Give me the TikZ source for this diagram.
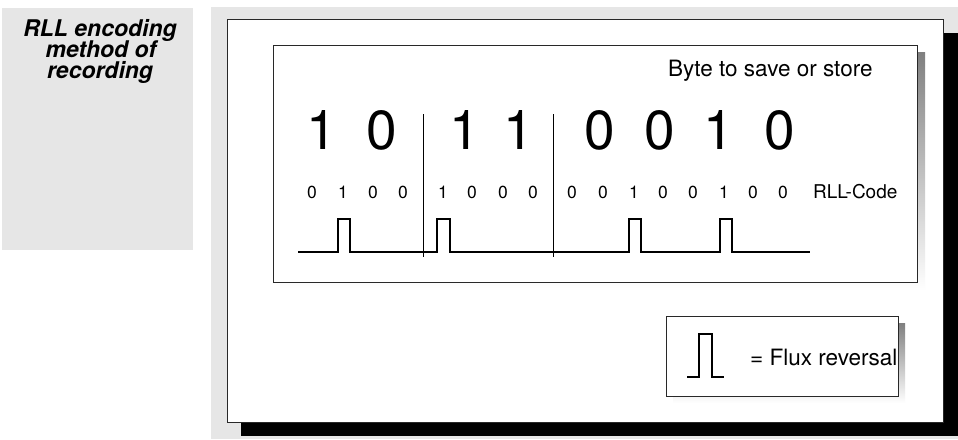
\documentclass[tikz,border=0pt]{standalone}
\usepackage{fontspec}
\setmainfont{TeX Gyre Heros}
\definecolor{panel}{RGB}{230,230,230}
\definecolor{shade}{RGB}{155,155,155}
\definecolor{edge}{RGB}{40,40,40}
\tikzset{
  bigdig/.style={anchor=base, inner sep=0pt, font=\fontsize{55}{55}\selectfont},
  smalldig/.style={anchor=base, inner sep=0pt, font=\fontsize{17.5}{17.5}\selectfont},
  titleline/.style={anchor=base, inner sep=0pt, font=\fontsize{23}{23}\selectfont\bfseries\itshape},
  wave/.style={line width=2pt, line join=miter},
  sep/.style={line width=0.8pt},
  boxline/.style={draw=edge, line width=1pt, fill=white},
}
\begin{document}
\begin{tikzpicture}[x=1pt, y=-1pt]
\useasboundingbox (0,0) rectangle (958,439);
% background panels
\fill[panel] (2,8) rectangle (193,250);
\fill[panel] (211,7) rectangle (958,439);
% title
\node[titleline] (title1) at (100,36) {RLL encoding};
\node[titleline] (title2) at (101,57) {method of};
\node[titleline] (title3) at (100,78) {recording};
% main frame with black shadow
\fill[black] (241,33) rectangle (958,436);
\draw[boxline] (227,19) rectangle (943,422);
% inner box with grey shadow
\fill[shade] (280,52) rectangle (925,290);
\draw[boxline] (273,45) rectangle (917,282);
\node[anchor=base west, inner sep=0pt, font=\fontsize{22.5}{22.5}\selectfont] (byte) at (668,76) {Byte to save or store};
% big digits
\foreach \x/\d [count=\i] in {322/1,382/0,465/1,519/1,600/0,660/0,719/1,780/0}
  \node[bigdig] (b\i) at (\x,149) {\d};
% separators
\draw[sep] (423,114) -- (423,257);
\draw[sep] (553,114) -- (553,257);
% small digits
\foreach \x/\d [count=\i] in {312/0,343/1,373/0,403/0,443/1,472/0,503/0,533/0,572/0,603/0,634/1,663/0,693/0,724/1,753/0,783/0}
  \node[smalldig] (s\i) at (\x,198) {\d};
\node[anchor=base west, inner sep=0pt, font=\fontsize{19}{19}\selectfont] (rll) at (813,198) {RLL-Code};
% waveform
\draw[wave] (298,252) -- (338,252) -- (338,219) -- (350,219) -- (350,252)
  -- (437,252) -- (437,219) -- (450,219) -- (450,252)
  -- (629,252) -- (629,219) -- (641,219) -- (641,252)
  -- (720,252) -- (720,219) -- (732,219) -- (732,252) -- (810,252);
% legend
\fill[shade] (673,323) rectangle (905,403);
\draw[boxline] (666,316) rectangle (898,396);
\draw[wave] (687,377) -- (699,377) -- (699,334) -- (712,334) -- (712,377) -- (724,377);
\node[anchor=base west, inner sep=0pt, font=\fontsize{22.5}{22.5}\selectfont] (flux) at (750,365) {= Flux reversal};
\end{tikzpicture}
\end{document}
